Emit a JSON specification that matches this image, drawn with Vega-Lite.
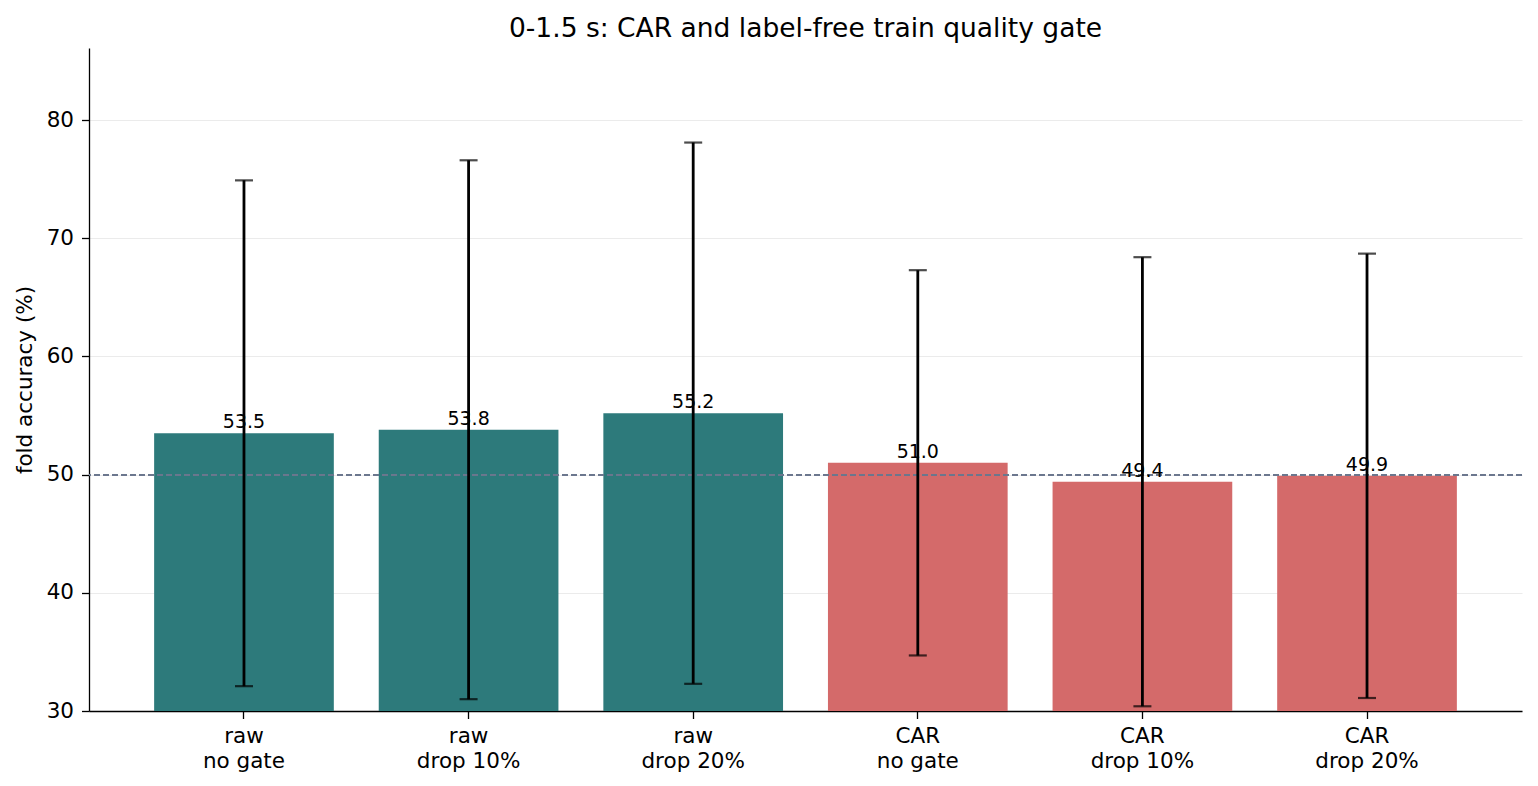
{
  "$schema": "https://vega.github.io/schema/vega-lite/v6.json",
  "autosize": "none",
  "width": 1433,
  "height": 663,
  "padding": {"left": 89, "top": 48, "right": 16, "bottom": 75},
  "background": "white",
  "config": {
    "font": "DejaVu Sans",
    "view": {"stroke": null},
    "axis": {"labelFont": "DejaVu Sans", "titleFont": "DejaVu Sans", "labelColor": "black", "titleColor": "black", "domainColor": "black", "tickColor": "black"}
  },
  "title": {"text": "0-1.5 s: CAR and label-free train quality gate", "fontSize": 26.5, "fontWeight": "normal", "font": "DejaVu Sans", "color": "black", "offset": 6},
  "data": {
    "values": [
      {"cond": "raw|no gate", "group": "raw", "acc": 53.5, "lo": 32.1, "hi": 74.9},
      {"cond": "raw|drop 10%", "group": "raw", "acc": 53.8, "lo": 31.0, "hi": 76.6},
      {"cond": "raw|drop 20%", "group": "raw", "acc": 55.2, "lo": 32.3, "hi": 78.1},
      {"cond": "CAR|no gate", "group": "CAR", "acc": 51.0, "lo": 34.7, "hi": 67.3},
      {"cond": "CAR|drop 10%", "group": "CAR", "acc": 49.4, "lo": 30.4, "hi": 68.4},
      {"cond": "CAR|drop 20%", "group": "CAR", "acc": 49.9, "lo": 31.1, "hi": 68.7}
    ]
  },
  "encoding": {
    "x": {
      "field": "cond", "type": "nominal", "sort": null,
      "scale": {"paddingInner": 0.2, "paddingOuter": 0.29},
      "axis": {"title": null, "labelAngle": 0, "labelFontSize": 21.5, "labelExpr": "split(datum.label, '|')", "labelLineHeight": 25, "labelPadding": 7, "tickSize": 7.5, "tickWidth": 1.3, "domainWidth": 1.3, "grid": false}
    }
  },
  "layer": [
    {
      "mark": {"type": "bar", "clip": true},
      "encoding": {
        "y": {"field": "acc", "type": "quantitative", "scale": {"domain": [30, 86.1], "nice": false, "zero": false},
          "axis": {"title": "fold accuracy (%)", "titleFontSize": 21.5, "titleFontWeight": "normal", "titlePadding": 10, "labelFontSize": 21.5, "values": [30, 40, 50, 60, 70, 80], "grid": true, "gridColor": "#ebebeb", "gridWidth": 1.2, "tickSize": 7.5, "tickWidth": 1.3, "domainWidth": 1.3, "labelPadding": 8}},
        "y2": {"datum": 30},
        "color": {"field": "group", "type": "nominal", "scale": {"domain": ["raw", "CAR"], "range": ["#2d7a7b", "#d46a6a"]}, "legend": null}
      }
    },
    {
      "mark": {"type": "rule", "color": "#6b778d", "strokeDash": [6, 3], "strokeWidth": 1.5},
      "encoding": {"y": {"datum": 50}, "x": null}
    },
    {
      "mark": {"type": "rule", "color": "black", "strokeWidth": 2.8},
      "encoding": {"y": {"field": "lo", "type": "quantitative"}, "y2": {"field": "hi"}}
    },
    {
      "mark": {"type": "tick", "color": "black", "size": 18, "thickness": 2.2},
      "encoding": {"y": {"field": "lo", "type": "quantitative"}}
    },
    {
      "mark": {"type": "tick", "color": "black", "size": 18, "thickness": 2.2},
      "encoding": {"y": {"field": "hi", "type": "quantitative"}}
    },
    {
      "mark": {"type": "text", "fontSize": 19, "color": "black", "baseline": "bottom", "dy": -1},
      "encoding": {"y": {"field": "acc", "type": "quantitative"}, "text": {"field": "acc", "type": "quantitative", "format": ".1f"}}
    }
  ]
}
